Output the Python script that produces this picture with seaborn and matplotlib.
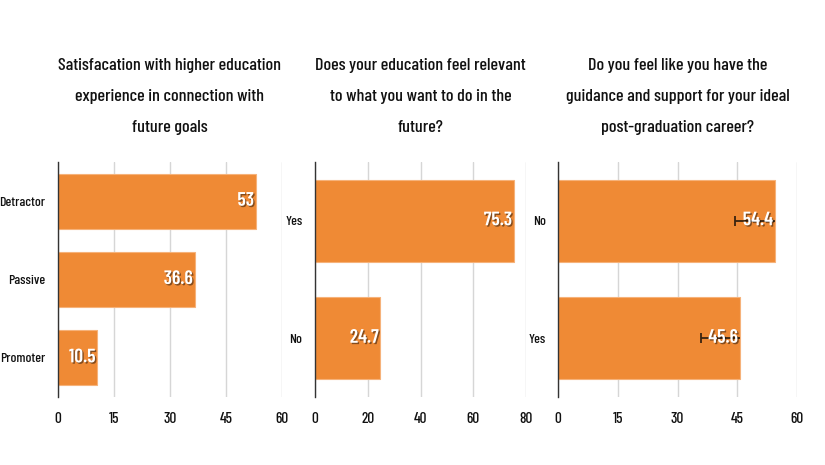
import pandas as pd
import matplotlib
matplotlib.use("Agg")
import matplotlib.pyplot as plt
import matplotlib.patheffects as pe
import seaborn as sns

# Chart data
titles = [
    "Satisfacation with higher education\nexperience in connection with\nfuture goals",
    "Does your education feel relevant\nto what you want to do in the\nfuture?",
    "Do you feel like you have the\nguidance and support for your ideal\npost-graduation career?",
]
sat_labels = ["Detractor", "Passive", "Promoter"]
sat_values = [53, 36.6, 10.5]
rel_labels = ["Yes", "No"]
rel_values = [75.3, 24.7]
guide_labels = ["No", "Yes"]
guide_values = [54.4, 45.6]
guide_err_low = [10.0, 9.7]
x_ticks = [[0, 15, 30, 45, 60], [0, 20, 40, 60, 80], [0, 15, 30, 45, 60]]

BAR = "#EF8A35"
ERR = "#3a2410"

sns.set_theme(style="white")
# reference text is a squeezed sans, a condensed face is closest
plt.rcParams["font.family"] = ["Barlow Condensed", "DejaVu Sans"]
plt.rcParams["font.weight"] = 500

fig = plt.figure(figsize=(8.25, 4.65), dpi=100)
bottom, height = 0.1462, 0.5054
boxes = [(0.0703, 0.2715), (0.3818, 0.2558), (0.6764, 0.2897)]

panels = [
    (sat_labels, sat_values, None),
    (rel_labels, rel_values, None),
    (guide_labels, guide_values, guide_err_low),
]

shadow = [pe.withSimplePatchShadow(offset=(1, -1), shadow_rgbFace="black", alpha=0.45)]

for i, (labels, values, err) in enumerate(panels):
    left, width = boxes[i]
    ax = fig.add_axes([left, bottom, width, height])
    df = pd.DataFrame({"cat": labels, "val": values})
    sns.barplot(data=df, x="val", y="cat", orient="h", color=BAR, saturation=1,
                width=0.7, edgecolor="#F6B27A", linewidth=0.8, ax=ax, zorder=2)

    ticks = x_ticks[i]
    ax.set_xlim(ticks[0], ticks[-1])
    ax.set_ylim(len(labels) - 0.5, -0.5)
    ax.set_xticks(ticks)
    ax.set_xlabel("")
    ax.set_ylabel("")
    ax.grid(axis="x", color="#d6d6d6", linewidth=1, zorder=0)
    ax.set_axisbelow(True)
    for side in ["top", "right", "bottom"]:
        ax.spines[side].set_visible(False)
    ax.spines["left"].set_color("#333333")
    ax.spines["left"].set_linewidth(1)
    ax.tick_params(axis="x", length=0, labelsize=11, colors="#111111", pad=11)
    ax.tick_params(axis="y", length=0, labelsize=10, colors="#111111", pad=9)

    if err is not None:
        # one-sided error bar: line back from the bar end, cap on the left only
        ys = list(range(len(values)))
        lows = [v - e for v, e in zip(values, err)]
        ax.errorbar(values, ys, xerr=[err, [0] * len(err)], fmt="none",
                    ecolor=ERR, elinewidth=1.3, capsize=0, zorder=3)
        ax.scatter(lows, ys, marker="|", s=45, color=ERR, linewidths=1.3, zorder=3)

    for j, v in enumerate(values):
        ax.text(v - ticks[-1] * 0.008, j, f"{v:g}", ha="right", va="center",
                color="white", fontsize=14, fontweight=600, zorder=4,
                path_effects=shadow)

    ax.text(0.5, 1.28, titles[i], transform=ax.transAxes, ha="center",
            va="center", fontsize=13, color="#111111", linespacing=2.35)

fig.savefig("out.png", dpi=100, facecolor="white")
